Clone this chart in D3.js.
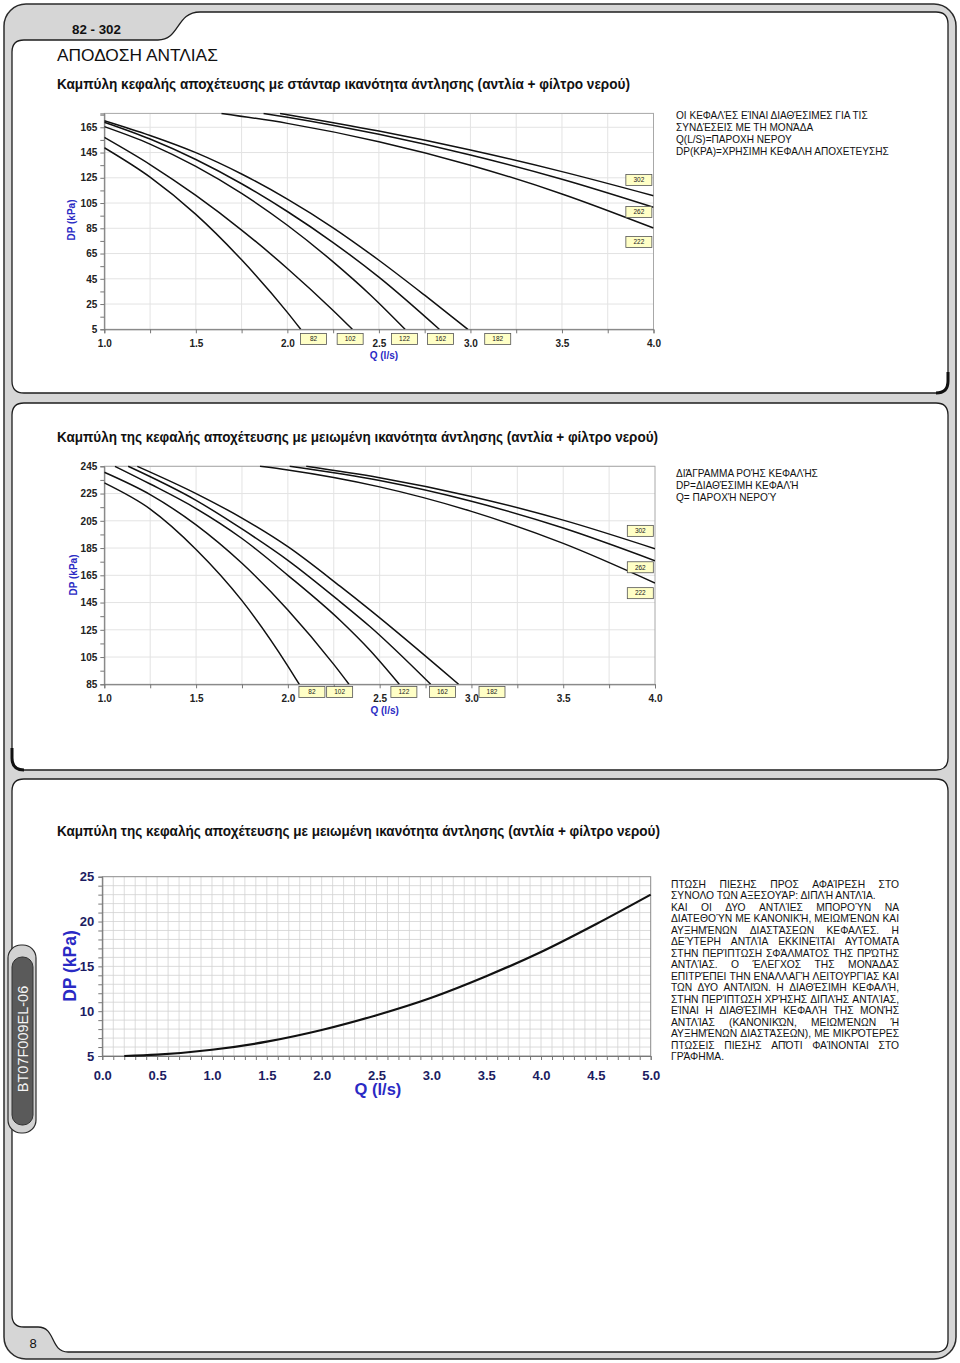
<!DOCTYPE html>
<html><head><meta charset="utf-8">
<script src="https://cdn.jsdelivr.net/npm/d3@7"></script>
<style>
body{margin:0;background:#fff}
svg{display:block}
text{font-family:"Liberation Sans",Arial,Helvetica,sans-serif}
</style>
</head><body>
<svg id="page" width="960" height="1363"></svg>
<script>
// ---------------- DATA ----------------
const modelNames = ["82","102","122","162","182","222","262","302"];

// Chart 1: standard pump head (Q l/s, DP kPa)
const std82  = [[1.0,148.8],[1.25,125.5],[1.5,96],[1.75,60],[2.0,18.4],[2.073,5]];
const std102 = [[1.0,157],[1.25,135.5],[1.5,111],[1.75,83.6],[2.0,53.2],[2.25,19.9],[2.355,5]];
const std122 = [[1.0,165.5],[1.25,151.7],[1.5,134],[1.75,112.6],[2.0,87.4],[2.25,58.4],[2.455,32],[2.643,5]];
const std162 = [[1.0,169],[1.25,155.7],[1.5,139.5],[1.75,120.3],[2.0,98.3],[2.25,73.7],[2.5,46.3],[2.83,5]];
const std182 = [[1.0,170.2],[1.25,158.5],[1.5,144.9],[1.75,128],[2.0,108.1],[2.25,85.4],[2.5,59.7],[2.75,32],[2.986,5]];
const std222 = [[1.64,176],[2.0,168.1],[2.5,153.6],[3.0,135],[3.5,112.2],[4.0,85.2]];
const std262 = [[1.87,176],[2.0,173],[2.5,159.4],[3.0,143],[3.5,123.8],[4.0,101.6]];
const std302 = [[1.96,176],[2.5,162],[3.0,147],[3.5,129.9],[4.0,110.8]];

// Chart 2: reduced pump head
const red82  = [[1.0,232.8],[1.25,213.6],[1.5,184],[1.75,146.4],[2.0,98.4],[2.062,85]];
const red102 = [[1.0,240.6],[1.25,224.2],[1.5,202],[1.75,173.8],[2.0,139.6],[2.25,99.6],[2.333,85]];
const red122 = [[1.058,245],[1.25,232],[1.5,214],[1.75,192],[2.0,165],[2.284,132],[2.447,110],[2.607,85]];
const red162 = [[1.13,245],[1.5,220],[1.75,199],[2.0,176],[2.284,145.7],[2.447,127.4],[2.778,85]];
const red182 = [[1.18,245],[1.5,225],[1.75,207],[2.0,186],[2.284,157],[2.447,139.6],[2.93,85]];
const red222 = [[1.848,245],[2.0,242.3],[2.5,229.9],[3.0,211.9],[3.5,188.4],[4.0,159.3]];
const red262 = [[2.01,245],[2.5,234.5],[3.0,219.3],[3.5,199.7],[4.0,175.7]];
const red302 = [[2.1,245],[2.5,236.6],[3.0,222.9],[3.5,205.5],[4.0,184.5]];

// Chart 3: pressure drop of accessories (double pump)
const dropQ  = [0.2,0.5,1.0,1.5,2.0,2.5,3.0,3.5,4.0,4.5,5.0];
const dropDP = [5.0,5.15,5.7,6.6,7.9,9.55,11.5,13.9,16.6,19.7,23.0];

// Tick labels
const qTicks12 = [1.0,1.5,2.0,2.5,3.0,3.5,4.0];
const dpTicks1 = [5,25,45,65,85,105,125,145,165];
const dpTicks2 = [85,105,125,145,165,185,205,225,245];
const qTicks3  = [0.0,0.5,1.0,1.5,2.0,2.5,3.0,3.5,4.0,4.5,5.0];
const dpTicks3 = [5,10,15,20,25];

// Texts
const pageCode = "82 - 302";
const heading = "ΑΠΟΔΟΣΗ ΑΝΤΛΙΑΣ";
const title1 = "Καμπύλη κεφαλής αποχέτευσης με στάνταρ  ικανότητα άντλησης (αντλία + φίλτρο νερού)";
const title2 = "Καμπύλη της κεφαλής αποχέτευσης με μειωμένη ικανότητα άντλησης (αντλία + φίλτρο νερού)";
const title3 = "Καμπύλη της κεφαλής αποχέτευσης με μειωμένη  ικανότητα άντλησης (αντλία + φίλτρο νερού)";
const note1 = ["ΟΙ ΚΕΦΑΛΈΣ ΕΊΝΑΙ ΔΙΑΘΈΣΙΜΕΣ ΓΙΑ ΤΙΣ","ΣΥΝΔΈΣΕΙΣ ΜΕ ΤΗ ΜΟΝΆΔΑ","Q(L/S)=ΠΑΡΟΧΗ ΝΕΡΟΥ","DP(KPA)=ΧΡΗΣΙΜΗ ΚΕΦΑΛΗ ΑΠΟΧΕΤΕΥΣΗΣ"];
const note2 = ["ΔΙΆΓΡΑΜΜΑ ΡΟΉΣ ΚΕΦΑΛΉΣ","DP=ΔΙΑΘΈΣΙΜΗ ΚΕΦΑΛΉ","Q= ΠΑΡΟΧΉ ΝΕΡΟΎ"];
const note3 = [
 "ΠΤΩΣΗ ΠΙΕΣΗΣ ΠΡΟΣ ΑΦΑΊΡΕΣΗ ΣΤΟ",
 "ΣΥΝΟΛΟ ΤΩΝ ΑΞΕΣΟΥΆΡ: ΔΙΠΛΉ ΑΝΤΛΊΑ.",
 "ΚΑΙ ΟΙ ΔΥΟ ΑΝΤΛΊΕΣ ΜΠΟΡΟΎΝ ΝΑ",
 "ΔΙΑΤΕΘΟΎΝ ΜΕ ΚΑΝΟΝΙΚΉ, ΜΕΙΩΜΈΝΩΝ ΚΑΙ",
 "ΑΥΞΗΜΈΝΩΝ ΔΙΑΣΤΆΣΕΩΝ ΚΕΦΑΛΈΣ. Η",
 "ΔΕΎΤΕΡΗ ΑΝΤΛΊΑ ΕΚΚΙΝΕΊΤΑΙ ΑΥΤΟΜΑΤΑ",
 "ΣΤΗΝ ΠΕΡΊΠΤΩΣΗ ΣΦΆΛΜΑΤΟΣ ΤΗΣ ΠΡΏΤΗΣ",
 "ΑΝΤΛΊΑΣ. Ο ΈΛΕΓΧΟΣ ΤΗΣ ΜΟΝΆΔΑΣ",
 "ΕΠΙΤΡΈΠΕΙ ΤΗΝ ΕΝΑΛΛΑΓΉ ΛΕΙΤΟΥΡΓΊΑΣ ΚΑΙ",
 "ΤΩΝ ΔΥΟ ΑΝΤΛΙΏΝ. Η ΔΙΑΘΈΣΙΜΗ ΚΕΦΑΛΉ,",
 "ΣΤΗΝ ΠΕΡΊΠΤΩΣΗ ΧΡΉΣΗΣ ΔΙΠΛΉΣ ΑΝΤΛΊΑΣ,",
 "ΕΊΝΑΙ Η ΔΙΑΘΈΣΙΜΗ ΚΕΦΑΛΉ ΤΗΣ ΜΟΝΉΣ",
 "ΑΝΤΛΊΑΣ (ΚΑΝΟΝΙΚΏΝ, ΜΕΙΩΜΈΝΩΝ Ή",
 "ΑΥΞΗΜΈΝΩΝ ΔΙΑΣΤΆΣΕΩΝ), ΜΕ ΜΙΚΡΌΤΕΡΕΣ",
 "ΠΤΩΣΕΙΣ ΠΙΕΣΗΣ ΑΠΌΤΙ ΦΑΊΝΟΝΤΑΙ ΣΤΟ",
 "ΓΡΆΦΗΜΑ."];
const note3Unjustified = [1, 15];
const sideCode = "BT07F009EL-06";
const pageNumber = "8";

// Tag anchors (annotation positions in data units)
const stdTagQ = [2.143, 2.343, 2.640, 2.837, 3.149];
const stdTopTagDP = [74.1, 97.9, 123.3];
const redTagQ = [2.131, 2.282, 2.632, 2.842, 3.112];
const redTopTagDP = [151.9, 170.9, 197.6];

// ---------------- DRAWING ----------------
const svg = d3.select("#page");
const BLUE = "#2a2ac4", NAVY = "#1c1c62";

function addText(parent, x, y, s, o = {}) {
  return parent.append("text").attr("x", x).attr("y", y).text(s)
    .attr("font-size", o.size || 10).attr("font-weight", o.weight || "normal")
    .attr("fill", o.fill || "#111").attr("text-anchor", o.anchor || "start");
}
function fitSize(t, target) {
  const w = t.node().getComputedTextLength();
  const s = +t.attr("font-size") * target / w;
  t.attr("font-size", s);
  return s;
}

// Page frame
svg.append("rect").attr("x", 4).attr("y", 4).attr("width", 952).attr("height", 1355)
  .attr("rx", 22).attr("fill", "#d6d6d6").attr("stroke", "#2b2b2b").attr("stroke-width", 1.5);

const panelStyle = p => p.attr("fill", "#fff").attr("stroke", "#1e1e1e").attr("stroke-width", 1.3);
panelStyle(svg.append("path").attr("d",
  "M12,52 Q12,40 24,40 L158,40 C180,40 176,12 200,12 L936,12 Q948,12 948,24 L948,381 Q948,393 936,393 L24,393 Q12,393 12,381 Z"));
panelStyle(svg.append("path").attr("d",
  "M24,403 L936,403 Q948,403 948,415 L948,758 Q948,770 936,770 L24,770 Q12,770 12,758 L12,415 Q12,403 24,403 Z"));
panelStyle(svg.append("path").attr("d",
  "M24,779 L936,779 Q948,779 948,791 L948,1340 Q948,1352 936,1352 L68,1352 C50,1352 56,1327 38,1327 L24,1327 Q12,1327 12,1315 L12,791 Q12,779 24,779 Z"));
// corner shadows
svg.append("path").attr("d", "M948,372 L948,381 Q948,393 936,393").attr("fill", "none").attr("stroke", "#111").attr("stroke-width", 3);
svg.append("path").attr("d", "M12,748 L12,758 Q12,770 24,770").attr("fill", "none").attr("stroke", "#111").attr("stroke-width", 3);

// side tab
svg.append("rect").attr("x", 8).attr("y", 945).attr("width", 28).attr("height", 188).attr("rx", 13)
  .attr("fill", "#d2d2d2").attr("stroke", "#2a2a2a").attr("stroke-width", 1.2);
svg.append("rect").attr("x", 12).attr("y", 957).attr("width", 21).attr("height", 168).attr("rx", 10)
  .attr("fill", "#5a5a5a").attr("stroke", "#333").attr("stroke-width", 1);
svg.append("text").attr("transform", "translate(23,1039) rotate(-90)").attr("text-anchor", "middle")
  .attr("dy", "0.36em").attr("font-size", 14.5).attr("fill", "#f4f4f4").text(sideCode);

// header texts
fitSize(addText(svg, 72, 34, pageCode, {size: 13, weight: "bold"}), 49);
fitSize(addText(svg, 57, 61, heading, {size: 17}), 161);
addText(svg, 57, 89, title1, {size: 14, weight: "bold"}).attr("textLength", 573).attr("lengthAdjust", "spacingAndGlyphs");
addText(svg, 57, 442, title2, {size: 14, weight: "bold"}).attr("textLength", 601).attr("lengthAdjust", "spacingAndGlyphs");
addText(svg, 57, 836, title3, {size: 14, weight: "bold"}).attr("textLength", 603).attr("lengthAdjust", "spacingAndGlyphs");
addText(svg, 33, 1348, pageNumber, {size: 13, anchor: "middle"});

// notes
function noteBlock(lines, x, y0, lh, refIdx, refW) {
  const t = addText(svg, x, y0 + refIdx * lh, lines[refIdx], {size: 10});
  const s = fitSize(t, refW);
  lines.forEach((l, i) => { if (i !== refIdx) addText(svg, x, y0 + i * lh, l, {size: s}); });
}
noteBlock(note1, 676, 118.5, 12, 3, 213);
noteBlock(note2, 676, 476.5, 12, 0, 142);

// justified block
(function () {
  const x0 = 671, x1 = 899, y0 = 887.5, lh = 11.53;
  const ref = addText(svg, x0, y0 + lh, note3[1], {size: 10});
  const s = fitSize(ref, 205);
  ref.remove();
  note3.forEach((line, i) => {
    const y = y0 + i * lh;
    if (note3Unjustified.includes(i)) { addText(svg, x0, y, line, {size: s}); return; }
    const words = line.split(/\s+/);
    const ws = words.map(w => { const t = addText(svg, 0, -50, w, {size: s}); const v = t.node().getComputedTextLength(); t.remove(); return v; });
    const gap = (x1 - x0 - d3.sum(ws)) / (words.length - 1);
    let cx = x0;
    words.forEach((w, k) => { addText(svg, cx, y, w, {size: s}); cx += ws[k] + gap; });
  });
})();

// pump charts
function pumpChart(cfg) {
  const g = svg.append("g");
  const x = d3.scaleLinear().domain([1, 4]).range([cfg.x0, cfg.x1]);
  const y = d3.scaleLinear().domain(cfg.yDomain).range([cfg.yBottom, cfg.yTop]);
  g.append("rect").attr("x", cfg.x0).attr("y", cfg.yTop).attr("width", cfg.x1 - cfg.x0)
    .attr("height", cfg.yBottom - cfg.yTop).attr("fill", "#fff");
  // grid
  g.selectAll(".vg").data(d3.range(1.25, 3.99, 0.25)).join("line")
    .attr("x1", d => x(d)).attr("x2", d => x(d)).attr("y1", cfg.yTop).attr("y2", cfg.yBottom)
    .attr("stroke", "#e3e3e3").attr("stroke-width", 1);
  g.selectAll(".hg").data(cfg.yLabels.slice(1)).join("line")
    .attr("x1", cfg.x0).attr("x2", cfg.x1).attr("y1", d => y(d)).attr("y2", d => y(d))
    .attr("stroke", "#e3e3e3").attr("stroke-width", 1);
  g.append("rect").attr("x", cfg.x0).attr("y", cfg.yTop).attr("width", cfg.x1 - cfg.x0)
    .attr("height", cfg.yBottom - cfg.yTop).attr("fill", "none").attr("stroke", "#a8a8a8");
  // axes
  const minorY = d3.range(cfg.yDomain[0], cfg.yDomain[1] + 0.1, 10);
  const yAx = g.append("g").attr("transform", `translate(${cfg.x0},0)`)
    .call(d3.axisLeft(y).tickValues(minorY).tickSize(4).tickPadding(3)
      .tickFormat(d => cfg.yLabels.includes(d) ? d : ""));
  const xAx = g.append("g").attr("transform", `translate(0,${cfg.yBottom})`)
    .call(d3.axisBottom(x).tickValues(d3.range(1, 4.01, 0.25)).tickSize(4).tickPadding(7)
      .tickFormat(d => qTicks12.some(v => Math.abs(v - d) < 1e-6) ? d.toFixed(1) : ""));
  [yAx, xAx].forEach(a => {
    a.select(".domain").attr("stroke", "#777");
    a.selectAll(".tick line").attr("stroke", "#777");
    a.selectAll("text").attr("font-size", 10).attr("font-weight", "bold").attr("fill", "#222")
      .attr("font-family", '"Liberation Sans",Arial,sans-serif');
  });
  // curves
  const clipId = "clip" + cfg.id;
  g.append("clipPath").attr("id", clipId).append("rect").attr("x", cfg.x0).attr("y", cfg.yTop - 1)
    .attr("width", cfg.x1 - cfg.x0).attr("height", cfg.yBottom - cfg.yTop + 1);
  const line = d3.line().x(d => x(d[0])).y(d => y(d[1])).curve(d3.curveMonotoneX);
  g.append("g").attr("clip-path", `url(#${clipId})`).selectAll("path").data(cfg.curves).join("path")
    .attr("d", line).attr("fill", "none").attr("stroke", "#111").attr("stroke-width", 1.5);
  // titles
  addText(g, (cfg.x0 + cfg.x1) / 2 + 5, cfg.yBottom + 29.5, "Q (l/s)", {size: 10, weight: "bold", fill: BLUE, anchor: "middle"});
  g.append("text").attr("transform", `translate(${cfg.yTitleX},${cfg.yTitleY}) rotate(-90)`)
    .attr("text-anchor", "middle").attr("dy", "0.35em").attr("font-size", 10).attr("font-weight", "bold")
    .attr("fill", BLUE).text("DP (kPa)");
  // tags
  const tag = (cx, cy, s) => {
    g.append("rect").attr("x", cx - 13).attr("y", cy - 5.5).attr("width", 26).attr("height", 11)
      .attr("fill", "#ffffc6").attr("stroke", "#555").attr("stroke-width", 0.8);
    addText(g, cx, cy + 2.3, s, {size: 6.5, anchor: "middle", fill: "#222"});
  };
  cfg.tagQ.forEach((q, i) => tag(x(q), cfg.yBottom + cfg.tagDy, modelNames[i]));
  cfg.topTagDP.forEach((v, i) => tag(x(3.92), y(v), modelNames[5 + i]));
}

pumpChart({id: 1, x0: 104.3, x1: 653.5, yTop: 113.4, yBottom: 329.3, yDomain: [5, 176],
  yLabels: dpTicks1, curves: [std82, std102, std122, std162, std182, std222, std262, std302],
  tagQ: stdTagQ, topTagDP: stdTopTagDP, tagDy: 9.7, yTitleX: 71, yTitleY: 220});
pumpChart({id: 2, x0: 104.3, x1: 655, yTop: 466.3, yBottom: 684.3, yDomain: [85, 245],
  yLabels: dpTicks2, curves: [red82, red102, red122, red162, red182, red222, red262, red302],
  tagQ: redTagQ, topTagDP: redTopTagDP, tagDy: 7.7, yTitleX: 73, yTitleY: 575});

// chart 3
(function () {
  const g = svg.append("g");
  const x0 = 102.3, x1 = 650.7, yT = 876.7, yB = 1056;
  const x = d3.scaleLinear().domain([0, 5]).range([x0, x1]);
  const y = d3.scaleLinear().domain([5, 25]).range([yB, yT]);
  g.selectAll(".vg").data(d3.range(1, 50)).join("line")
    .attr("x1", d => x(d / 10)).attr("x2", d => x(d / 10)).attr("y1", yT).attr("y2", yB)
    .attr("stroke", "#d2d2d2").attr("stroke-width", 0.8);
  g.selectAll(".hg").data(d3.range(6, 25)).join("line")
    .attr("x1", x0).attr("x2", x1).attr("y1", d => y(d)).attr("y2", d => y(d))
    .attr("stroke", "#d2d2d2").attr("stroke-width", 0.8);
  g.append("rect").attr("x", x0).attr("y", yT).attr("width", x1 - x0).attr("height", yB - yT)
    .attr("fill", "none").attr("stroke", "#8a8a8a");
  const yAx = g.append("g").attr("transform", `translate(${x0},0)`)
    .call(d3.axisLeft(y).tickValues(d3.range(5, 25.1, 1)).tickSize(4).tickPadding(4)
      .tickFormat(d => dpTicks3.includes(d) ? d : ""));
  const xAx = g.append("g").attr("transform", `translate(0,${yB})`)
    .call(d3.axisBottom(x).tickValues(d3.range(0, 51).map(d => d / 10)).tickSize(4).tickPadding(10.5)
      .tickFormat(d => qTicks3.some(v => Math.abs(v - d) < 1e-6) ? d.toFixed(1) : ""));
  [yAx, xAx].forEach(a => {
    a.select(".domain").attr("stroke", "#777");
    a.selectAll(".tick line").attr("stroke", "#777");
    a.selectAll("text").attr("font-size", 13).attr("font-weight", "bold").attr("fill", NAVY)
      .attr("font-family", '"Liberation Sans",Arial,sans-serif');
  });
  const pts = dropQ.map((q, i) => [q, dropDP[i]]);
  g.append("path").datum(pts).attr("d", d3.line().x(d => x(d[0])).y(d => y(d[1])).curve(d3.curveMonotoneX))
    .attr("fill", "none").attr("stroke", "#111").attr("stroke-width", 2.2);
  addText(g, 378, 1095, "Q (l/s)", {size: 16.5, weight: "bold", fill: BLUE, anchor: "middle"});
  g.append("text").attr("transform", "translate(70,966) rotate(-90)").attr("text-anchor", "middle")
    .attr("dy", "0.35em").attr("font-size", 17.5).attr("font-weight", "bold").attr("fill", BLUE).text("DP (kPa)");
})();
</script>
</body></html>
